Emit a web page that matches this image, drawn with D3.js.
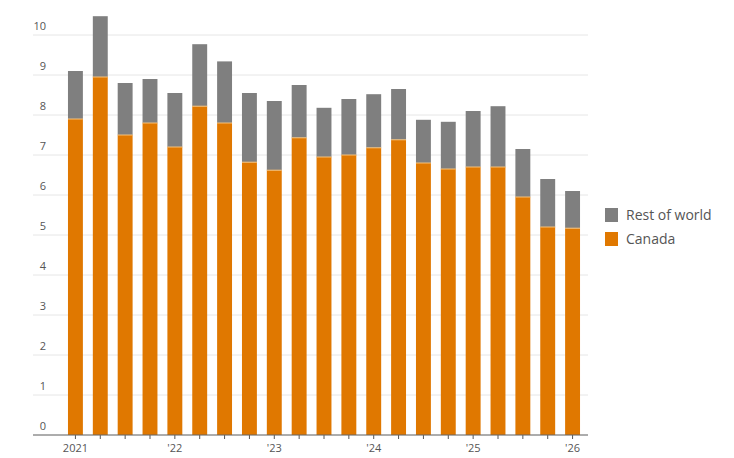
<!DOCTYPE html>
<html><head><meta charset="utf-8">
<script src="https://cdn.jsdelivr.net/npm/d3@7"></script>
<style>body{margin:0;background:#fff}text{font-family:"Open Sans",sans-serif}</style>
</head><body><svg id="c" width="734" height="458"></svg>
<script>
const quarters = d3.range(21).map(i => `${2021 + Math.floor(i/4)}Q${i%4+1}`);
const canada = [7.9,8.95,7.5,7.8,7.2,8.22,7.8,6.82,6.62,7.43,6.95,7.0,7.18,7.38,6.8,6.65,6.7,6.7,5.95,5.2,5.17];
const totals = [9.1,10.47,8.8,8.9,8.55,9.77,9.34,8.55,8.35,8.75,8.18,8.4,8.52,8.65,7.88,7.83,8.1,8.22,7.15,6.4,6.1];
const restOfWorld = totals.map((t,i) => +(t - canada[i]).toFixed(2));
const yTicks = d3.range(0,11);
const yearLabels = {"2021Q1":"2021","2022Q1":"'22","2023Q1":"'23","2024Q1":"'24","2025Q1":"'25","2026Q1":"'26"};
const cOrange = "#e07800", cGray = "#7f7f7f";

const svg = d3.select("#c");
const x = d3.scaleBand().domain(quarters).range([63, 585]).paddingInner(0.4).paddingOuter(0.2);
const y = d3.scaleLinear().domain([0,10]).range([435,35]);

const g = svg.append("g");
g.selectAll("line.grid").data(yTicks).join("line")
  .attr("x1",33).attr("x2",588).attr("y1",d=>y(d)).attr("y2",d=>y(d))
  .attr("stroke","#e6e6e6").attr("stroke-width",1);
g.selectAll("text.yl").data(yTicks).join("text")
  .attr("x",46).attr("y",d=>y(d)-5).attr("text-anchor","end")
  .attr("font-size",11).attr("fill","#555").text(d=>d);

const rows = quarters.map((q,i)=>({q, canada:canada[i], rest:restOfWorld[i]}));
const stack = d3.stack().keys(["canada","rest"])(rows);
const colors = {canada:cOrange, rest:cGray};
stack.forEach(s=>{
  g.selectAll(null).data(s).join("rect")
    .attr("x",d=>x(d.data.q)).attr("width",x.bandwidth())
    .attr("y",d=>y(d[1])).attr("height",d=>y(d[0])-y(d[1]))
    .attr("fill",colors[s.key]);
});
// thin separator line
g.selectAll("line.sep").data(rows).join("line")
  .attr("x1",d=>x(d.q)).attr("x2",d=>x(d.q)+x.bandwidth())
  .attr("y1",d=>y(d.canada)).attr("y2",d=>y(d.canada))
  .attr("stroke","#f7c27a").attr("stroke-width",1);

const xa = g.append("g").attr("transform","translate(0,435)")
  .call(d3.axisBottom(x).tickSize(4).tickFormat(d=>yearLabels[d]||""));
xa.select(".domain").remove();
xa.selectAll(".tick line").attr("stroke","#555");
xa.selectAll(".tick text").attr("font-size",11).attr("fill","#555").attr("dy","0.9em").style("font-family","Open Sans");
g.append("line").attr("x1",33).attr("x2",588).attr("y1",435).attr("y2",435).attr("stroke","#666");

const legend = [{k:"Rest of world",c:cGray},{k:"Canada",c:cOrange}];
const lg = g.selectAll("g.lg").data(legend).join("g").attr("transform",(d,i)=>`translate(605,${208+i*24})`);
lg.append("rect").attr("width",13).attr("height",14).attr("fill",d=>d.c);
lg.append("text").attr("x",21).attr("y",12).attr("font-size",14).attr("fill","#555").text(d=>d.k);
</script></body></html>
